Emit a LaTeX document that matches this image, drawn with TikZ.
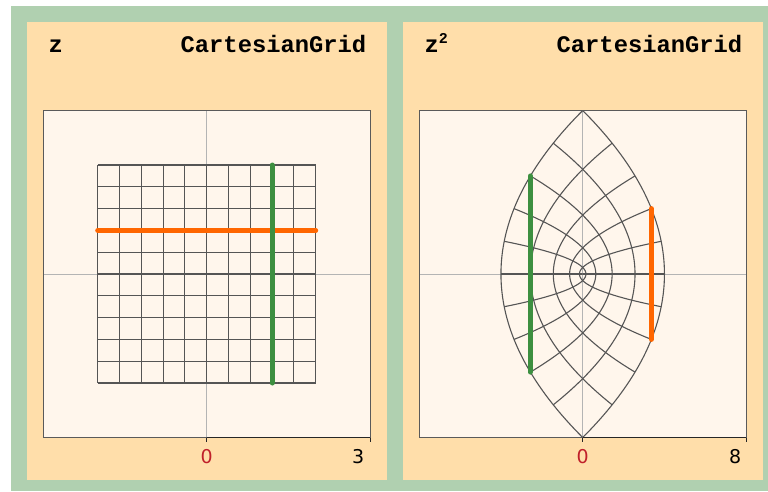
\documentclass[tikz,border=0pt]{standalone}
\usepackage{fontspec}
\setmonofont{Liberation Mono}
\newfontfamily\numfont{DejaVu Sans}
\definecolor{framec}{HTML}{B0D0B0}
\definecolor{panelc}{HTML}{FFDEAA}
\definecolor{plotbg}{HTML}{FFF6EC}
\definecolor{gridc}{HTML}{555555}
\definecolor{axisc}{HTML}{B4B4B4}
\definecolor{boxc}{HTML}{5A5A5A}
\definecolor{orangec}{HTML}{FF6600}
\definecolor{greenc}{HTML}{3D8F40}
\definecolor{zeroc}{HTML}{C0202A}
\begin{document}
\begin{tikzpicture}[x=1pt,y=-1pt,
  gridline/.style={draw=gridc,line width=1.1pt},
  axisline/.style={draw=axisc,line width=0.9pt},
  boxline/.style={draw=boxc,line width=0.9pt},
  axisdark/.style={draw=black!85,line width=1.3pt},
  thickorange/.style={draw=orangec,line width=5pt,line cap=round},
  thickgreen/.style={draw=greenc,line width=5pt,line cap=round},
  titletext/.style={inner sep=0pt,font=\ttfamily\bfseries\fontsize{23.8}{26}\selectfont},
  numtext/.style={inner sep=0pt,font=\numfont\fontsize{19}{21}\selectfont}]
\useasboundingbox (0,0) rectangle (768,491);
\fill[white] (0,0) rectangle (768,491);
\fill[framec] (11,6) rectangle (768,491);
\fill[panelc] (27,22) rectangle (387,480);
\fill[panelc] (403,22) rectangle (763,480);
\fill[plotbg] (43.2,110.5) rectangle (370.2,437.5);
\fill[plotbg] (419.2,110.5) rectangle (746.2,437.5);

% left plot
\begin{scope}[xshift=206.7pt,yshift=-274pt,x=54.5pt,y=54.5pt]
  \draw[axisline] (-3,0) -- (3,0);
  \draw[axisline] (0,-3) -- (0,3);
  \foreach \k in {0,...,10} {
    \draw[gridline] ({-2+0.4*\k},-2) -- ({-2+0.4*\k},2);
    \draw[gridline] (-2,{-2+0.4*\k}) -- (2,{-2+0.4*\k});
  }
  \draw[thickorange] (-2,0.8) -- (2,0.8);
  \draw[thickgreen] (1.2,-2) -- (1.2,2);
  \draw[boxline] (-3,-3) rectangle (3,3);
  \draw[axisdark] (0,-3) -- (3,-3);
  \draw[axisdark] (0,-3) -- ++(0,-4pt);
  \draw[axisdark] (3,-3) -- ++(0,-4pt);
\end{scope}

% right plot
\begin{scope}[xshift=582.7pt,yshift=-274pt,x=20.4375pt,y=20.4375pt]
  \draw[axisline] (-8,0) -- (8,0);
  \draw[axisline] (0,-8) -- (0,8);
  \foreach \k in {0,...,5} {
    \draw[gridline] plot[domain=-2:2,samples=61,smooth]
      ({(0.4*\k)*(0.4*\k)-\x*\x},{0.8*\k*\x});
    \draw[gridline] plot[domain=-2:2,samples=61,smooth]
      ({\x*\x-(0.4*\k)*(0.4*\k)},{0.8*\k*\x});
  }
  \draw[thickorange] (3.36,-3.2) -- (3.36,3.2);
  \draw[thickgreen] (-2.56,-4.8) -- (-2.56,4.8);
  \draw[boxline] (-8,-8) rectangle (8,8);
  \draw[axisdark] (0,-8) -- (8,-8);
  \draw[axisdark] (0,-8) -- ++(0,-4pt);
  \draw[axisdark] (8,-8) -- ++(0,-4pt);
\end{scope}

% titles
\node[titletext,anchor=base west] (t1l) at (48.5,52) {z};
\node[titletext,anchor=base east] (t1r) at (366.5,52) {CartesianGrid};
\node[titletext,anchor=base west] (t2l) at (424.5,52) {z\raisebox{9pt}{\fontsize{15}{15}\selectfont 2}};
\node[titletext,anchor=base east] (t2r) at (742.5,52) {CartesianGrid};

% axis numbers
\node[numtext,anchor=base,text=zeroc] (n1a) at (206.7,463) {0};
\node[numtext,anchor=base east] (n1b) at (364.5,463) {3};
\node[numtext,anchor=base,text=zeroc] (n2a) at (582.7,463) {0};
\node[numtext,anchor=base east] (n2b) at (741.5,463) {8};
\end{tikzpicture}
\end{document}
